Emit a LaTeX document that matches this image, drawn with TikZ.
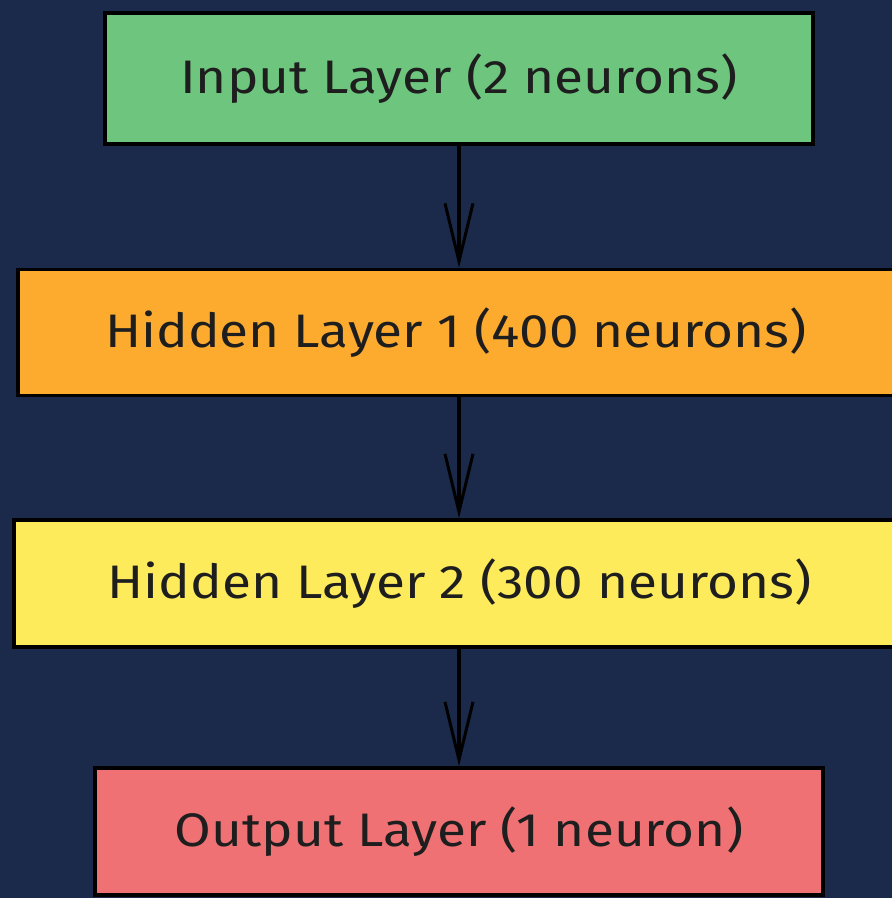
\documentclass[tikz,border=0pt]{standalone}
\usepackage{fontspec}
\setmainfont{Fira Sans}
\usetikzlibrary{arrows.meta}
\definecolor{bgnavy}{HTML}{1B2A4A}
\definecolor{ingreen}{HTML}{6DC57E}
\definecolor{hidorange}{HTML}{FCAB2E}
\definecolor{hidyellow}{HTML}{FDEB5C}
\definecolor{outred}{HTML}{F07174}
\definecolor{inktext}{HTML}{1E1E1E}
\newcommand{\widetext}[1]{\scalebox{1.13}[1]{#1}}
\tikzset{
  layerbox/.style={draw=black, line width=3.5pt, rectangle, inner sep=0pt,
    text=inktext, font=\fontsize{47}{52}\selectfont},
  flowarrow/.style={draw=black, line width=3.5pt,
    -{Straight Barb[length=58pt,width=28pt,line width=3pt]}}
}
\begin{document}
\begin{tikzpicture}[x=1pt,y=-1pt]
\fill[bgnavy] (0,0) rectangle (892,898);
\useasboundingbox (0,0) rectangle (892,898);
\node[layerbox, fill=ingreen, minimum width=708pt, minimum height=131pt] (in) at (459,78.5) {\widetext{Input Layer (2 neurons)}};
\node[layerbox, fill=hidorange, minimum width=887pt, minimum height=126pt] (h1) at (461.5,332.5) {\hspace*{-11pt}\widetext{Hidden Layer 1 (400 neurons)}};
\node[layerbox, fill=hidyellow, minimum width=891pt, minimum height=127pt] (h2) at (459.5,583.5) {\widetext{Hidden Layer 2 (300 neurons)}};
\node[layerbox, fill=outred, minimum width=728pt, minimum height=127pt] (out) at (459,831.5) {\widetext{Output Layer (1 neuron)}};
\draw[flowarrow] (in.south) -- (h1.north -| in.south);
\draw[flowarrow] (h1.south -| in.south) -- (h2.north -| in.south);
\draw[flowarrow] (h2.south -| in.south) -- (out.north);
\end{tikzpicture}
\end{document}
